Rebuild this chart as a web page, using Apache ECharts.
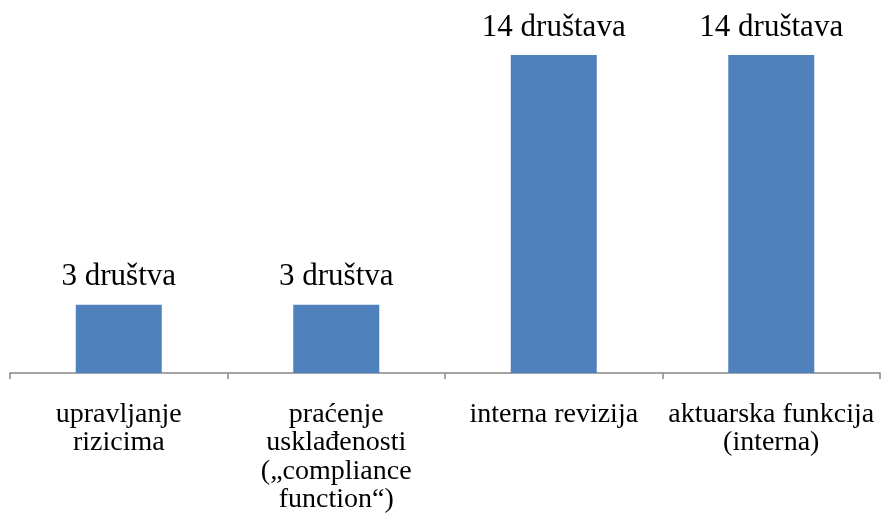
<!DOCTYPE html>
<html>
<head>
<meta charset="utf-8">
<script src="https://cdn.jsdelivr.net/npm/echarts@6/dist/echarts.min.js"></script>
<style>
  html, body { margin: 0; padding: 0; background: #fff; }
  #chart { width: 881px; height: 518px; }
</style>
</head>
<body>
<div id="chart"></div>
<script>
// kategorije i broj društava
const categories = [
  'upravljanje\nrizicima',
  'praćenje\nusklađenosti\n(„compliance\nfunction“)',
  'interna revizija',
  'aktuarska funkcija\n(interna)'
]
const counts = [3, 3, 14, 14]
const countLabels = ['3 društva', '3 društva', '14 društava', '14 društava']

const font = '"Liberation Serif", "Times New Roman", serif'

const chart = echarts.init(document.getElementById('chart'))

chart.setOption({
  animation: false,
  grid: { left: 10, right: 1, top: 55, bottom: 145 },
  xAxis: {
    type: 'category',
    data: categories,
    axisLine: { lineStyle: { color: '#868686', width: 1.5 } },
    axisTick: { show: true, length: 6, lineStyle: { color: '#868686', width: 1.5 } },
    axisLabel: {
      interval: 0,
      margin: 27,
      color: '#000',
      fontFamily: font,
      fontSize: 28,
      lineHeight: 28.5
    }
  },
  yAxis: {
    type: 'value',
    min: 0,
    max: 14,
    show: false,
    splitLine: { show: false }
  },
  series: [
    {
      type: 'bar',
      data: counts,
      barWidth: 86,
      itemStyle: { color: '#4F81BD' },
      label: {
        show: true,
        position: 'top',
        distance: 12,
        color: '#000',
        fontFamily: font,
        fontSize: 31,
        formatter: (p) => countLabels[p.dataIndex]
      }
    }
  ]
})
</script>
</body>
</html>
